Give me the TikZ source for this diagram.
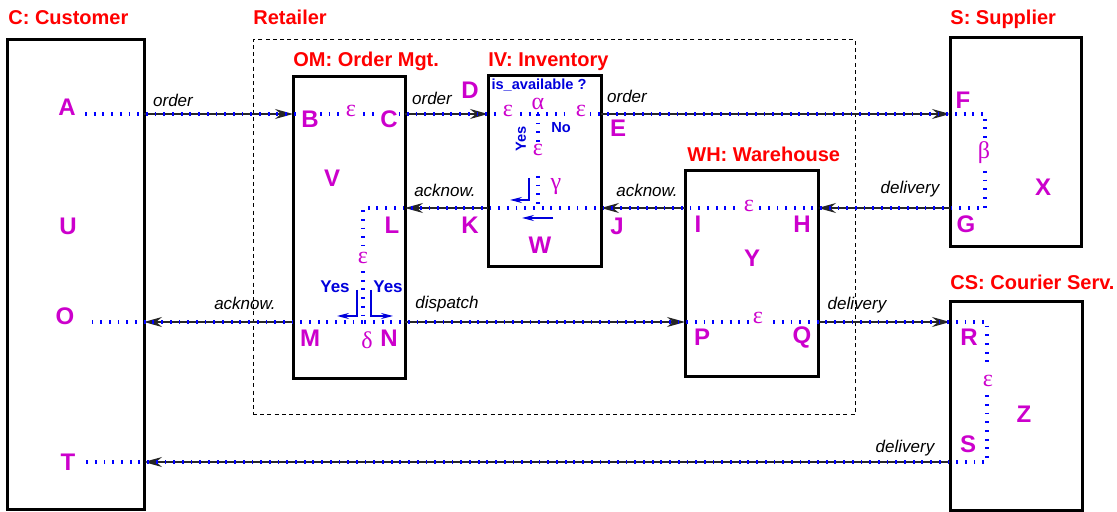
\documentclass[tikz,border=0pt]{standalone}
\usepackage{fontspec}
\setmainfont{Liberation Sans}
\newfontfamily\greekfont{Liberation Serif}
\usepackage{xcolor}
\usetikzlibrary{arrows.meta,positioning,fit}
\definecolor{lblmag}{RGB}{204,0,204}
\definecolor{dotblue}{RGB}{0,0,255}
\definecolor{txtblue}{RGB}{0,0,220}

\begin{document}
\begin{tikzpicture}[x=0.5pt,y=-0.5pt,>=Stealth,
  box/.style={draw,line width=1.5pt,inner sep=0pt,outer sep=0pt},
  retbox/.style={draw,line width=0.5pt,dash pattern=on 2pt off 1.6pt,inner sep=0pt,outer sep=0pt},
  title/.style={anchor=base west,inner sep=0pt,text=red,font=\fontsize{10}{12}\selectfont\bfseries},
  pt/.style={text=lblmag,fill=white,inner sep=0.5pt,font=\fontsize{12}{14}\selectfont\bfseries},
  gk/.style={text=lblmag,fill=white,inner sep=2pt,font=\fontsize{12}{14}\selectfont\greekfont},
  msg/.style={inner sep=1pt,font=\fontsize{8.5}{10}\selectfont\itshape},
  flow/.style={draw=black!85,line width=0.6pt,-{Stealth[length=9pt,width=5pt,inset=3pt]}},
  dots/.style={draw=dotblue,line width=1.7pt,dash pattern=on 0.9pt off 3.45pt},
  cond/.style={text=txtblue,inner sep=0pt,font=\fontsize{8.5}{10}\selectfont\bfseries},
  condsm/.style={text=txtblue,inner sep=0pt,font=\fontsize{7.3}{9}\selectfont\bfseries},
  turn/.style={draw=txtblue,line width=0.6pt,-{Stealth[length=6pt,width=3pt,inset=2pt]}}]
 \useasboundingbox (0,0) rectangle (1117,512);
 % --- boxes ---
 \node[retbox,fit={(253,40) (855,415)}] (ret) {};
 \node[box,fit={(7,40) (144,509)}] (cust) {};
 \node[box,fit={(293,77) (405,379)}] (om) {};
 \node[box,fit={(488,76) (601,267)}] (iv) {};
 \node[box,fit={(685,171) (818,377)}] (wh) {};
 \node[box,fit={(950,38) (1081,247)}] (sup) {};
 \node[box,fit={(950,302) (1082,510)}] (cour) {};
 \node[title] (tcust) at (8,25) {C: Customer};
 \node[title] (tret) at (253,25) {Retailer};
 \node[title] (tom) at (293,67) {OM: Order Mgt.};
 \node[title] (tiv) at (488,67) {IV: Inventory};
 \node[title] (twh) at (687,162) {WH: Warehouse};
 \node[title] (tsup) at (950,25) {S: Supplier};
 \node[title] (tcour) at (950,290) {CS: Courier Serv.};
 % --- ports ---
 \foreach \n/\x/\y in {A/85/114, A1/144/114, B/293/114, C/405/114, D/488/114, E/601/114,
   F/950/114, F1/985/114, G1/985/208, G/950/208, H/818/208, I/685/208, J/601/208,
   K/488/208, L/405/208, L1/363/208, Dl/363/322, M/293/322, O1/144/322, O/85/322,
   N/405/322, P/685/322, Q/818/322, R/950/322, R1/987/322, S1/987/462, S/950/462,
   T1/144/462, T/85/462, Al/538/114, Ga/538/208, Ivm/538/176}
   \coordinate (p\n) at (\x,\y);
 % --- messages ---
 \draw[flow] (pA1) -- (pB);
 \draw[flow] (pC) -- (pD);
 \draw[flow] (pE) -- (pF);
 \draw[flow] (pG) -- (pH);
 \draw[flow] (pI) -- (pJ);
 \draw[flow] (pK) -- (pL);
 \draw[flow] (pM) -- (pO1);
 \draw[flow] (pN) -- (pP);
 \draw[flow] (pQ) -- (pR);
 \draw[flow] (pS) -- (pT1);
 \node[msg] (mAB) at (173,100) {order};
 \node[msg] (mCD) at (432,98) {order};
 \node[msg] (mEF) at (627,96) {order};
 \node[msg] (mGH) at (910,189) {delivery};
 \node[msg] (mIJ) at (647,190) {acknow.};
 \node[msg] (mKL) at (445,190) {acknow.};
 \node[msg] (mMO) at (245,303) {acknow.};
 \node[msg] (mNP) at (447,304) {dispatch};
 \node[msg] (mQR) at (857,305) {delivery};
 \node[msg] (mST) at (905,448) {delivery};
 % --- runs ---
 \draw[dots] (pA) -- (pF) -- (pF1) -- (pG1) -- (pG) -- (pL1) -- (pDl) -- (pN) -- (pR)
   -- (pR1) -- (pS1) -- (pS) -- (pT);
 \draw[dots] (pDl) -- (pO);
 \node[gk] (e1) at (351,111) {ε};
 \node[gk,fill=none,inner sep=0pt] (al) at (538,104) {α};
 \node[gk] (e2) at (508,111) {ε};
 \node[gk] (e3) at (581,111) {ε};
 \node[gk,inner sep=0.5pt] (e4) at (538,150) {ε};
 \draw[dots] (pAl) -- (e4.north);
 \draw[dots] (pIvm) -- (pGa);
 \node[gk,inner sep=0.5pt] (ga) at (556,187) {γ};
 \node[gk] (be) at (984,153) {β};
 \node[gk] (e5) at (749,206) {ε};
 \node[gk] (e6) at (758,318) {ε};
 \node[gk,inner sep=3pt] (e7) at (363,258) {ε};
 \node[gk,fill=none] (de) at (367,340) {δ};
 \node[gk,inner sep=3pt] (e8) at (988,381) {ε};
 % --- choices ---
 \node[condsm] (qiv) at (539,85) {is\_available ?};
 \node[condsm,rotate=90] (yiv) at (521,139) {Yes};
 \node[condsm] (niv) at (561,128) {No};
 \coordinate (tv1) at (529,178); \coordinate (tv2) at (529,200); \coordinate (tv3) at (510,200);
 \coordinate (tw1) at (553,218); \coordinate (tw2) at (522,218);
 \draw[turn] (tv1) -- (tv2) -- (tv3);
 \draw[turn] (tw1) -- (tw2);
 \node[cond] (yl) at (335,287) {Yes};
 \node[cond] (yr) at (388,287) {Yes};
 \coordinate (ul1) at (357,290); \coordinate (ul2) at (357,316); \coordinate (ul3) at (337,316);
 \coordinate (ur1) at (371,290); \coordinate (ur2) at (371,316); \coordinate (ur3) at (393,316);
 \draw[turn] (ul1) -- (ul2) -- (ul3);
 \draw[turn] (ur1) -- (ur2) -- (ur3);
 % --- states ---
 \foreach \n/\x/\y in {A/67/107, U/68/226, O/65/316, T/68/462, B/310/119, C/389/119,
   V/332/178, L/392/225, M/310/338, N/389/338, D/470/90, E/618/128, K/470/225,
   J/617/226, W/540/245, I/698/224, H/802/224, Y/752/258, P/702/337, Q/802/337,
   F/963/100, G/966/224, X/1043/187, R/969/337, S/968/444, Z/1024/414}
   \node[pt] (l\n) at (\x,\y) {\n};
\end{tikzpicture}
\end{document}
